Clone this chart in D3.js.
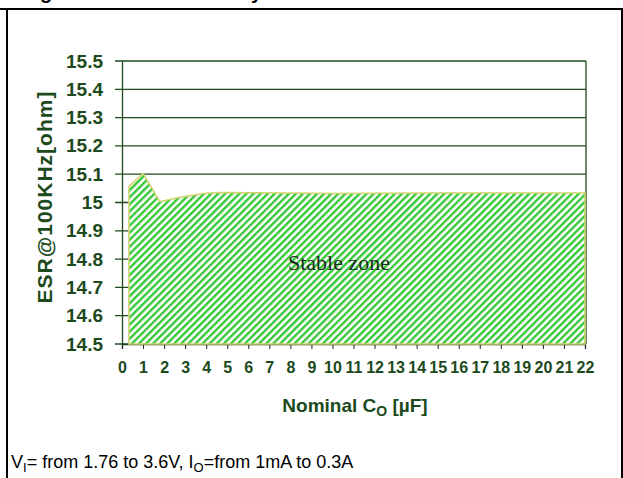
<!DOCTYPE html>
<html>
<head>
<meta charset="utf-8">
<script src="https://cdn.jsdelivr.net/npm/d3@7"></script>
<style>
  body { margin: 0; background: #fff; }
  text { font-family: "Liberation Sans", Arial, sans-serif; }
</style>
</head>
<body>
<div id="esr_chart"></div>
<script>
// values
var capValues = [0.33, 1, 1.8, 2.7, 3.9, 4.7, 10, 15, 22];          // nominal Co [uF]
var esrValues = [15.056, 15.103, 15.003, 15.018, 15.032, 15.035, 15.032, 15.034, 15.034]; // ESR [ohm]
var yTicks = [14.5, 14.6, 14.7, 14.8, 14.9, 15, 15.1, 15.2, 15.3, 15.4, 15.5];
var xTicks = d3.range(0, 23);

function init(){
    var w = 623, h = 478;
    var svg = d3.select("#esr_chart").append("svg")
                .attr("width", w)
                .attr("height", h);

    var green = "#1c4a1c";

    // page frame (title row is cut off above)
    svg.append("text").attr("x", 40).attr("y", -1)
        .style("font-size", "20px").style("font-weight", "bold").text("g");
    svg.append("text").attr("x", 251).attr("y", -1)
        .style("font-size", "20px").style("font-weight", "bold").text("y");
    svg.append("line").attr("x1", 0).attr("x2", w).attr("y1", 9).attr("y2", 9)
        .attr("stroke", "#000").attr("stroke-width", 2);
    svg.append("line").attr("x1", 7).attr("x2", 7).attr("y1", 9).attr("y2", h)
        .attr("stroke", "#000").attr("stroke-width", 2);
    svg.append("line").attr("x1", 622).attr("x2", 622).attr("y1", 9).attr("y2", h)
        .attr("stroke", "#000").attr("stroke-width", 2);

    var xScale = d3.scaleLinear().domain([0, 22]).range([122, 585]);
    var yScale = d3.scaleLinear().domain([14.5, 15.5]).range([344, 61]);

    // hatch pattern
    var pat = svg.append("defs").append("pattern")
        .attr("id", "hatch")
        .attr("patternUnits", "userSpaceOnUse")
        .attr("width", 5).attr("height", 5)
        .attr("patternTransform", "rotate(45)");
    pat.append("rect").attr("width", 5).attr("height", 5).attr("fill", "#fff");
    pat.append("rect").attr("width", 2.4).attr("height", 5).attr("fill", "#36c636");

    // gridlines
    svg.selectAll(".grid").data(yTicks).enter().append("line")
        .attr("class", "grid")
        .attr("x1", xScale(0) - 7).attr("x2", xScale(22) + 1)
        .attr("y1", d => yScale(d)).attr("y2", d => yScale(d))
        .attr("stroke", green).attr("stroke-width", 1.3);

    // y axis
    var yAxis = d3.axisLeft(yScale).tickValues(yTicks).tickSize(0).tickPadding(19)
        .tickFormat(d => d3.format(".1f")(d).replace(".0", ""));
    var gy = svg.append("g").attr("transform", "translate(" + xScale(0) + ",0)").call(yAxis);
    gy.select(".domain").attr("stroke", green).attr("stroke-width", 1.3);
    gy.selectAll("text").style("font-size", "19px").style("font-weight", "bold").attr("fill", green);

    // right border
    svg.append("line").attr("x1", xScale(22) + 1).attr("x2", xScale(22) + 1)
        .attr("y1", yScale(15.5)).attr("y2", yScale(14.5))
        .attr("stroke", green).attr("stroke-width", 1.3);

    // x axis
    var xAxis = d3.axisBottom(xScale).tickValues(xTicks).tickSize(5).tickPadding(13);
    var gx = svg.append("g").attr("transform", "translate(0," + yScale(14.5) + ")").call(xAxis);
    gx.select(".domain").attr("stroke", green).attr("stroke-width", 1.3);
    gx.selectAll("line").attr("stroke", "#223");
    gx.selectAll("text").style("font-size", "16px").style("font-weight", "bold").attr("fill", green);

    // stable area
    var pts = capValues.map((c, i) => [c, esrValues[i]]);
    var area = d3.area()
        .x(d => xScale(d[0]))
        .y0(yScale(14.5))
        .y1(d => yScale(d[1]));
    svg.append("path").datum(pts)
        .attr("d", area)
        .attr("fill", "url(#hatch)")
        .attr("stroke", "#cfd36a")
        .attr("stroke-width", 1.5);

    svg.append("text").attr("x", 288).attr("y", 270)
        .style("font-family", "'Liberation Serif', 'Times New Roman', serif")
        .style("font-size", "22px").attr("fill", "#1e2e1e")
        .text("Stable zone");

    // axis titles
    svg.append("text")
        .attr("transform", "translate(52,197) rotate(-90)")
        .attr("text-anchor", "middle")
        .style("font-size", "21px").style("font-weight", "bold")
        .style("letter-spacing", "1px")
        .attr("fill", green)
        .text("ESR@100KHz[ohm]");

    var xt = svg.append("text").attr("x", 355).attr("y", 412)
        .attr("text-anchor", "middle")
        .style("font-size", "19px").style("font-weight", "bold")
        .attr("fill", green);
    xt.append("tspan").text("Nominal C");
    xt.append("tspan").attr("dy", 4).style("font-size", "14px").text("O");
    xt.append("tspan").attr("dy", -4).text(" [\u00b5F]");

    // conditions line
    var cond = svg.append("text").attr("x", 11).attr("y", 468)
        .style("font-size", "18px").attr("fill", "#000");
    cond.append("tspan").text("V");
    cond.append("tspan").attr("dy", 4).style("font-size", "13px").text("I");
    cond.append("tspan").attr("dy", -4).text("= from 1.76 to 3.6V, I");
    cond.append("tspan").attr("dy", 4).style("font-size", "13px").text("O");
    cond.append("tspan").attr("dy", -4).text("=from 1mA to 0.3A");
}
window.onload = init;
</script>
</body>
</html>
